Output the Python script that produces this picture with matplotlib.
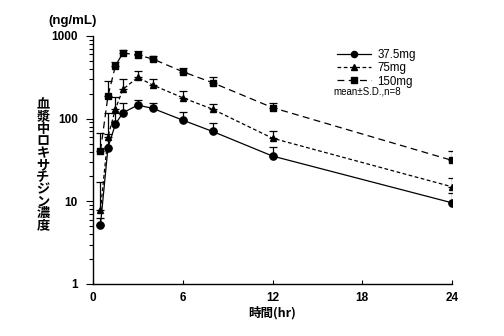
import matplotlib
matplotlib.use("Agg")
import matplotlib.pyplot as plt
import numpy as np

plt.rcParams['font.family'] = ['Liberation Sans', 'Noto Sans CJK JP', 'DejaVu Sans']

hours = [0.5, 1, 1.5, 2, 3, 4, 6, 8, 12, 24]
dose_labels = ["37.5mg", "75mg", "150mg"]
mean_375 = [5.2, 44.6, 86, 118, 146, 133, 96, 70, 35.3, 9.6]
sd_375 = [1.0, 20, 30, 38, 22, 23, 24, 18, 10, 2.9]
mean_75 = [7.9, 60.5, 131, 227, 316, 255, 179, 130, 58, 15.0]
sd_75 = [9.2, 55, 50, 78, 64, 50, 39, 22, 13.6, 4.3]
mean_150 = [41, 188, 437, 623, 589, 527, 370, 272, 136, 31.3]
sd_150 = [26.6, 100, 48, 54, 75, 51, 43, 44, 20, 9.3]

x_ticks = [0, 6, 12, 18, 24]
y_ticks = [1, 10, 100, 1000]
y_tick_labels = ["1", "10", "100", "1000"]

fig = plt.figure(figsize=(5.04, 3.36), dpi=100)
ax = fig.add_axes([93/504, 1-284/336, (452-93)/504, (284-36)/336])

series = [
    (mean_375, sd_375, 'o', '-', 5.2),
    (mean_75, sd_75, '^', (0, (3.0, 2.0)), 5.0),
    (mean_150, sd_150, 's', (0, (5.5, 3.5)), 4.5),
]
handles = []
for (m, s, mk, ls, ms), lab in zip(series, dose_labels):
    m = np.array(m); s = np.array(s)
    ax.errorbar(hours, m, yerr=[np.zeros_like(s), s], fmt='none', ecolor='black',
                elinewidth=0.9, capsize=3, capthick=0.9, zorder=2)
    h, = ax.plot(hours, m, color='black', linestyle=ls, marker=mk, markersize=ms,
                 linewidth=0.9, label=lab, zorder=3)
    handles.append(h)

ax.set_yscale('log')
ax.set_xlim(0, 24)
ax.set_ylim(1, 1000)
ax.set_xticks(x_ticks)
ax.set_xticklabels([str(t) for t in x_ticks], fontsize=8.5, fontweight='bold')
ax.set_yticks(y_ticks)
ax.set_yticklabels(y_tick_labels, fontsize=8.5, fontweight='bold')
ax.tick_params(axis='x', direction='in', length=3, width=0.8, pad=6)
ax.tick_params(axis='y', which='major', direction='out', length=5, width=0.8, pad=6)
ax.tick_params(axis='y', which='minor', direction='out', length=3, width=0.8)
ax.spines['top'].set_visible(False)
ax.spines['right'].set_visible(False)
for sp in ['left', 'bottom']:
    ax.spines[sp].set_linewidth(1.0)

ax.set_xlabel("時間(hr)", fontsize=9, fontweight='bold', labelpad=1,
              family=['Noto Sans CJK JP', 'DejaVu Sans'])
fig.text(43/504, 1-165/336, "\n".join("血漿中ロキサチジン濃度"), ha='center', va='center',
         fontsize=9.5, fontweight='bold', linespacing=0.82,
         family=['Noto Sans CJK JP', 'DejaVu Sans'])
fig.text(73/504, 1-21/336, "(ng/mL)", ha='center', va='center', fontsize=9.5,
         fontweight='bold')

leg = ax.legend(handles=handles, loc='upper left', bbox_to_anchor=(331/504, 1-43/336),
                bbox_transform=fig.transFigure, frameon=False, fontsize=8.3,
                handlelength=3.0, handletextpad=0.5, labelspacing=0.12, borderpad=0,
                markerscale=0.85)
ax.text(333/504, 1-92/336, "mean±S.D.,n=8", transform=fig.transFigure, fontsize=7,
        ha='left', va='center')

fig.savefig("out.png", dpi=100)
